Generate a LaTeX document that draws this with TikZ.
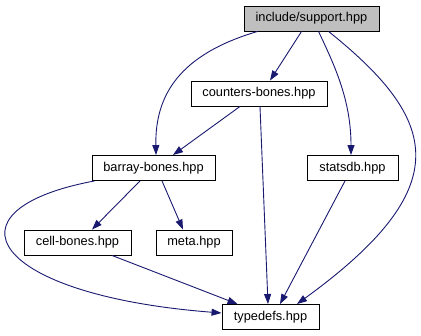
\documentclass[tikz,border=0pt]{standalone}
\usepackage{fontspec}
\setmainfont{Liberation Sans}
\usepackage{xcolor}
\usetikzlibrary{arrows.meta}
\definecolor{edgeblue}{HTML}{191970}

\begin{document}
\begin{tikzpicture}[x=1pt,y=-1pt,
file/.style={draw=black,line width=0.9pt,inner sep=0pt,minimum height=25pt,font=\fontsize{12.8}{14}\selectfont},
dep/.style={edgeblue,line width=0.9pt,-{Triangle[length=10pt,width=7pt]}}]
\useasboundingbox (0,0) rectangle (421,336);
\node[file,fill=gray!50,minimum width=135pt](sup) at (311.5,18.5){include/support.hpp};
\node[file,minimum width=136pt](cnt) at (259,93.5){counters-bones.hpp};
\node[file,minimum width=123pt](bar) at (153.5,168){barray-bones.hpp};
\node[file,minimum width=91pt](sdb) at (352.5,168){statsdb.hpp};
\node[file,minimum width=107pt](cell) at (77.5,242.5){cell-bones.hpp};
\node[file,minimum width=76pt](meta) at (194,242.5){meta.hpp};
\node[file,minimum width=97pt](typ) at (270.5,317){typedefs.hpp};
\draw[dep]([xshift=14pt]sup.south west) .. controls +(-78,23) and +(-1,-60) .. ([xshift=2.5pt]bar.north);
\draw[dep]([xshift=58pt]sup.south west)--([xshift=11pt]cnt.north);
\draw[dep]([xshift=75pt]sup.south west) .. controls +(16,34) and +(0,-55) .. ([xshift=-1.5pt]sdb.north);
\draw[dep]([xshift=85pt]sup.south west) .. controls +(111,89) and +(161,-117) .. ([xshift=26.5pt]typ.north);
\draw[dep]([xshift=-19pt]cnt.south)--([xshift=19.5pt]bar.north);
\draw[dep]([xshift=1pt]cnt.south)--([xshift=-2.5pt]typ.north);
\draw[dep]([xshift=-13.5pt]bar.south)--([xshift=14.5pt]cell.north);
\draw[dep]([xshift=8.5pt]bar.south)--([xshift=-11pt]meta.north);
\draw[dep]([xshift=3pt]bar.south west) .. controls +(-155,29) and +(-232,-18) .. ([yshift=4pt]typ.west);
\draw[dep]([xshift=34.5pt]cell.south)--([xshift=16pt]typ.north west);
\draw[dep]([xshift=-7.5pt]sdb.south)--([xshift=9.5pt]typ.north);
\end{tikzpicture}
\end{document}
